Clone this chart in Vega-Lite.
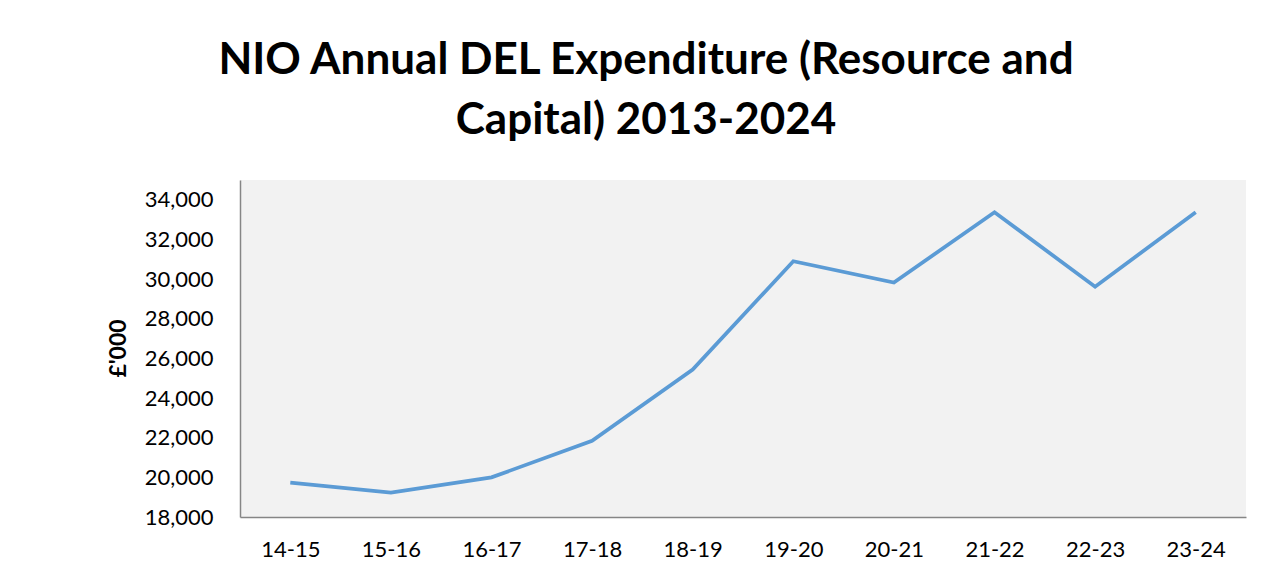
{
  "$schema": "https://vega.github.io/schema/vega-lite/v6.json",
  "width": 1006,
  "height": 337,
  "autosize": {"type": "none"},
  "padding": {"left": 240, "top": 180, "right": 23, "bottom": 59},
  "background": "white",
  "title": {
    "text": ["NIO Annual DEL Expenditure (Resource and", "Capital) 2013-2024"],
    "font": "Lato",
    "fontSize": 44,
    "fontWeight": "bold",
    "color": "#000000",
    "anchor": "middle",
    "frame": "group",
    "dx": -97,
    "offset": 37,
    "lineHeight": 60
  },
  "data": {
    "values": [
      {"year": "14-15", "value": 19730},
      {"year": "15-16", "value": 19230},
      {"year": "16-17", "value": 20000},
      {"year": "17-18", "value": 21840},
      {"year": "18-19", "value": 25440},
      {"year": "19-20", "value": 30900},
      {"year": "20-21", "value": 29830},
      {"year": "21-22", "value": 33370},
      {"year": "22-23", "value": 29620},
      {"year": "23-24", "value": 33370}
    ]
  },
  "mark": {"type": "line", "color": "#5B9BD5", "strokeWidth": 3.75},
  "encoding": {
    "x": {
      "field": "year",
      "type": "ordinal",
      "sort": null,
      "scale": {"type": "point", "padding": 0.5},
      "axis": {
        "title": null,
        "labelAngle": 0,
        "labelFont": "Lato",
        "labelFontSize": 22,
        "labelColor": "#000000",
        "labelPadding": 22,
        "ticks": false,
        "domainColor": "#868686",
        "domainWidth": 1.5,
        "grid": false
      }
    },
    "y": {
      "field": "value",
      "type": "quantitative",
      "scale": {"domain": [18000, 35000], "nice": false, "zero": false},
      "axis": {
        "title": "£'000",
        "titleFont": "Lato",
        "titleFontSize": 23,
        "titleFontWeight": "bold",
        "titleColor": "#000000",
        "titleX": -122,
        "titleY": 168,
        "titleAlign": "center",
        "titleBaseline": "middle",
        "values": [18000, 20000, 22000, 24000, 26000, 28000, 30000, 32000, 34000],
        "format": ",.0f",
        "labelFont": "Lato",
        "labelFontSize": 22,
        "labelColor": "#000000",
        "labelPadding": 27,
        "ticks": false,
        "domainColor": "#868686",
        "domainWidth": 1.5,
        "grid": false
      }
    }
  },
  "config": {
    "view": {"fill": "#F2F2F2", "stroke": null}
  }
}
